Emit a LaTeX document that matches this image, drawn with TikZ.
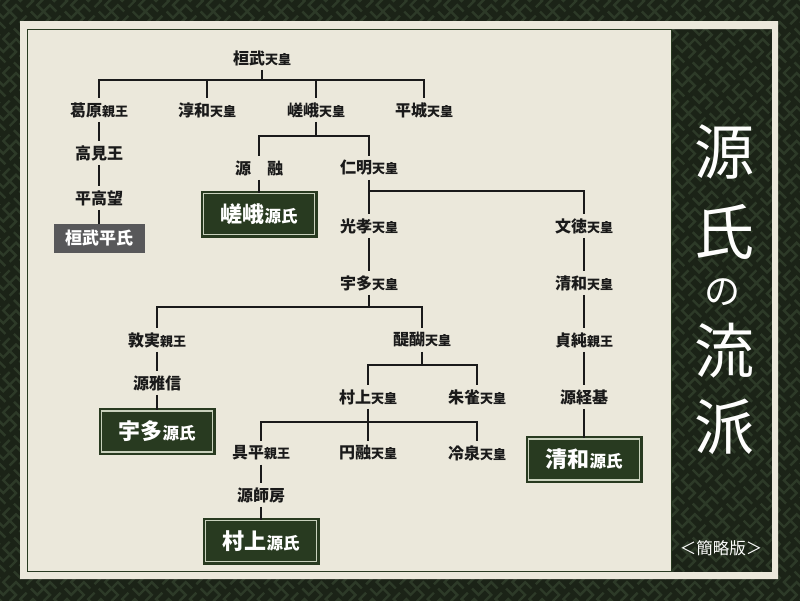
\documentclass[tikz,border=0pt]{standalone}
\usepackage{fontspec}
\setmainfont{Noto Sans CJK JP}
\definecolor{bgdark}{HTML}{1B2317}
\definecolor{bgline}{HTML}{2D3A28}
\definecolor{paper}{HTML}{EBE8DB}
\definecolor{boxgreen}{HTML}{283A20}
\definecolor{boxline}{HTML}{C9D1BD}
\definecolor{ink}{HTML}{1A1A1A}
\definecolor{heikegray}{HTML}{58585A}
\newcommand\hon[1]{{\fontsize{13}{14}\selectfont #1}}
\newcommand\gsmall[1]{{\fontsize{16.5}{18}\selectfont #1}}
\tikzset{
  person/.style={text=ink, font=\fontsize{16}{18}\selectfont\bfseries, inner sep=4pt},
  genji/.style={fill=boxgreen, draw=boxline, line width=1.2pt,
    preaction={draw=boxgreen, line width=6pt}, text=white,
    font=\fontsize{22}{24}\selectfont\bfseries,
    minimum width=111pt, minimum height=41pt, inner sep=0pt},
  heike/.style={fill=heikegray, text=white, font=\fontsize{17}{19}\selectfont\bfseries,
    minimum width=91pt, minimum height=29pt, inner sep=0pt},
  tree/.style={draw=ink, line width=1.7pt},
  titlechar/.style={text=white!95!paper, font=\fontsize{60}{62}\selectfont, inner sep=0pt}
}

\begin{document}
\begin{tikzpicture}[x=1pt,y=-1pt]
\useasboundingbox (0,0) rectangle (800,600);
\fill [bgdark] (-6,-6) rectangle (806,606);
% sayagata background
\begin{scope}
\clip (-6,-6) rectangle (806,606);
\begin{scope}[shift={(400,300)},rotate=45]
\foreach \j in {-24,...,24}
  \draw [bgline, line width=2.4pt] \foreach \i in {-24,...,24}
    {(\i*24-9,\j*24+9) -- (\i*24,\j*24+9) -- (\i*24,\j*24-9) -- (\i*24+9,\j*24-9)
     (\i*24-9,\j*24-9) -- (\i*24-9,\j*24) -- (\i*24+9,\j*24) -- (\i*24+9,\j*24+9)};
\end{scope}
\end{scope}
% paper frame
\fill [paper, even odd rule] (20,21) rectangle (778,579) (671,29) rectangle (772,572);
\draw [boxgreen, line width=1pt] (27,29) rectangle (671,571);

% names
\node [person] (kanmu) at (262,58) {桓武\hon{天皇}};
\node [person] (kuzuhara) at (99,110) {葛原\hon{親王}};
\node [person] (junna) at (207,110) {淳和\hon{天皇}};
\node [person] (saga) at (316,110) {嵯峨\hon{天皇}};
\node [person] (heizei) at (424,110) {平城\hon{天皇}};
\node [person] (takami) at (99,153) {高見王};
\node [person] (takamochi) at (99,198) {平高望};
\node [heike] (kanmuhei) at (99,238.5) {桓武平氏};

\node [person] (toru) at (259,168) {源　融};
\node [person] (ninmyo) at (369,168) {仁明\hon{天皇}};
\node [genji] (sagagenji) at (259,214) {嵯峨\gsmall{源氏}};

\node [person] (koko) at (369,226) {光孝\hon{天皇}};
\node [person] (montoku) at (584,226) {文徳\hon{天皇}};
\node [person] (uda) at (369,283) {宇多\hon{天皇}};
\node [person] (seiwa) at (584,283) {清和\hon{天皇}};
\node [person] (sadazumi) at (584,340) {貞純\hon{親王}};
\node [person] (tsunemoto) at (584,397) {源経基};
\node [genji] (seiwagenji) at (584,459.5) {清和\gsmall{源氏}};

\node [person] (atsumi) at (157,340) {敦実\hon{親王}};
\node [person] (daigo) at (422,340) {醍醐\hon{天皇}};
\node [person] (masanobu) at (157,383) {源雅信};
\node [genji] (udagenji) at (157,431.5) {宇多\gsmall{源氏}};

\node [person] (murakami) at (368,397) {村上\hon{天皇}};
\node [person] (suzaku) at (477,397) {朱雀\hon{天皇}};
\node [person] (tomohira) at (261,453) {具平\hon{親王}};
\node [person] (enyu) at (368,453) {円融\hon{天皇}};
\node [person] (reizei) at (477,453) {冷泉\hon{天皇}};
\node [person] (morofusa) at (261,495) {源師房};
\node [genji] (murakamigenji) at (261,541) {村上\gsmall{源氏}};

% bars
\coordinate (bkanmu) at (262,80);
\coordinate (bsaga) at (316,136);
\coordinate (bninmyo) at (369,191);
\coordinate (buda) at (369,307);
\coordinate (bdaigo) at (422,365);
\coordinate (bmurakami) at (368,422);

\draw [tree] (kanmu.south) -- (bkanmu);
\draw [tree] (bkanmu) -| (kuzuhara.north);
\draw [tree] (bkanmu) -| (junna.north);
\draw [tree] (bkanmu) -| (saga.north);
\draw [tree] (bkanmu) -| (heizei.north);
\draw [tree] (kuzuhara.south) -- (takami.north);
\draw [tree] (takami.south) -- (takamochi.north);
\draw [tree] (takamochi.south) -- (kanmuhei.north);

\draw [tree] (saga.south) -- (bsaga);
\draw [tree] (bsaga) -| (toru.north);
\draw [tree] (bsaga) -| (ninmyo.north);
\draw [tree] (toru.south) -- (sagagenji.north);

\draw [tree] (ninmyo.south) -- (koko.north);
\draw [tree] (bninmyo) -| (montoku.north);
\draw [tree] (koko.south) -- (uda.north);
\draw [tree] (montoku.south) -- (seiwa.north);
\draw [tree] (seiwa.south) -- (sadazumi.north);
\draw [tree] (sadazumi.south) -- (tsunemoto.north);
\draw [tree] (tsunemoto.south) -- (seiwagenji.north);

\draw [tree] (uda.south) -- (buda);
\draw [tree] (buda) -| (atsumi.north);
\draw [tree] (buda) -| (daigo.north);
\draw [tree] (atsumi.south) -- (masanobu.north);
\draw [tree] (masanobu.south) -- (udagenji.north);

\draw [tree] (daigo.south) -- (bdaigo);
\draw [tree] (bdaigo) -| (murakami.north);
\draw [tree] (bdaigo) -| (suzaku.north);
\draw [tree] (murakami.south) -- (enyu.north);
\draw [tree] (bmurakami) -| (tomohira.north);
\draw [tree] (bmurakami) -| (reizei.north);
\draw [tree] (tomohira.south) -- (morofusa.north);
\draw [tree] (morofusa.south) -- (murakamigenji.north);

% title
\node [titlechar] (tgen) at (724,152) {源};
\node [titlechar] (tshi) at (724,232) {氏};
\node [titlechar, font=\fontsize{36}{38}\selectfont] (tno) at (722,292) {の};
\node [titlechar] (tryu) at (724,351) {流};
\node [titlechar] (tha) at (724,427) {派};
\node [text=white!95!paper, font=\fontsize{16.5}{18}\selectfont] (ryakuban) at (721,548) {＜簡略版＞};
\end{tikzpicture}
\end{document}
